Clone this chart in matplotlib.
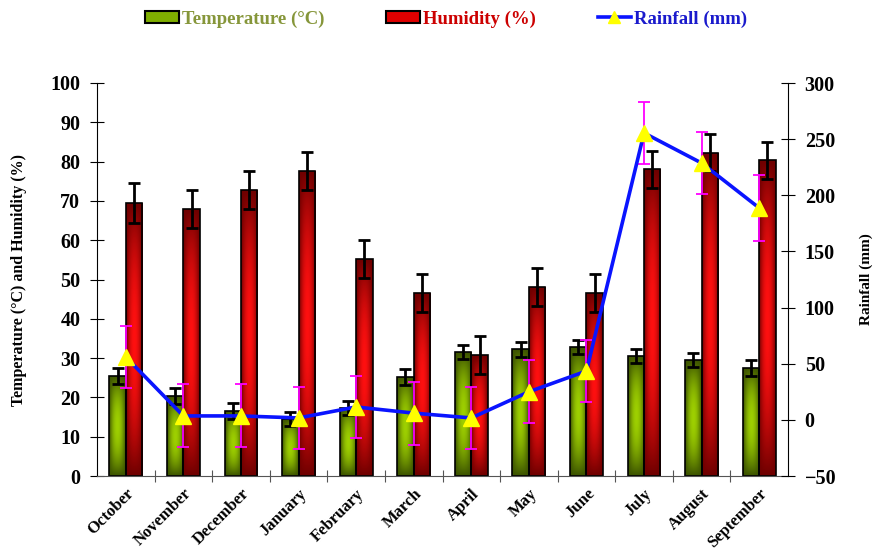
import numpy as np
import matplotlib
matplotlib.use("Agg")
import matplotlib.pyplot as plt
from matplotlib.patches import Patch
from matplotlib.lines import Line2D
from matplotlib.colors import to_rgb

months = ['October', 'November', 'December', 'January', 'February', 'March',
          'April', 'May', 'June', 'July', 'August', 'September']
temperature = [25.5, 20.3, 16.6, 14.5, 17.3, 25.2, 31.5, 32.2, 32.8, 30.6, 29.5, 27.5]
temperature_err = [2.0, 2.0, 2.0, 1.8, 1.8, 2.0, 1.8, 1.8, 1.8, 1.8, 1.8, 2.0]
humidity = [69.5, 68.0, 72.7, 77.7, 55.3, 46.5, 30.7, 48.0, 46.5, 78.0, 82.3, 80.3]
humidity_err = [5.0, 4.8, 4.8, 4.8, 4.8, 4.8, 4.8, 4.8, 4.8, 4.8, 4.8, 4.8]
rainfall = [56, 3.5, 3.5, 1.7, 11.5, 6, 1.7, 25, 43.5, 255.5, 228.7, 188.7]
rainfall_err = [28, 28, 28, 28, 28, 28, 28, 28, 28, 27.6, 28, 29]

plt.rcParams['font.family'] = 'Liberation Serif'
plt.rcParams['font.weight'] = 'bold'

fig = plt.figure(figsize=(8.75, 5.52), dpi=100)
ax = fig.add_axes([97 / 875, 1 - 476 / 552, (788 - 97) / 875, (476 - 83) / 552])

x = np.arange(len(months))
w = 1 / 3.5


def gradient_bars(bars, bright, dark):
    # fill each bar with a centre-bright, edge-dark shading
    b = np.array(to_rgb(bright))
    d = np.array(to_rgb(dark))
    u = np.linspace(-1, 1, 40)
    v = np.linspace(-1, 1, 200)
    uu, vv = np.meshgrid(u, v)
    t = (1 - np.abs(uu) ** 2) * (1 - np.abs(vv) ** 2)
    img = d + (b - d) * t[..., None]
    for rect in bars:
        x0, y0 = rect.get_x(), rect.get_y()
        im = ax.imshow(img, extent=[x0, x0 + rect.get_width(), y0, y0 + rect.get_height()],
                       aspect='auto', origin='lower', zorder=1.5, interpolation='bilinear')
        im.set_clip_path(rect)
        rect.set_facecolor('none')


tb = ax.bar(x - w / 2, temperature, w, edgecolor='black', linewidth=1.2, zorder=2)
hb = ax.bar(x + w / 2, humidity, w, edgecolor='black', linewidth=1.2, zorder=2)
gradient_bars(tb, '#9ed000', '#3b5200')
gradient_bars(hb, '#ff1010', '#6e0000')

ax.errorbar(x - w / 2, temperature, yerr=temperature_err, fmt='none', ecolor='black',
            elinewidth=2, capsize=4, capthick=2, zorder=3)
ax.errorbar(x + w / 2, humidity, yerr=humidity_err, fmt='none', ecolor='black',
            elinewidth=2, capsize=4, capthick=2, zorder=3)

ax.set_xlim(-0.5, len(months) - 0.5)
ax.set_ylim(0, 100)
ax.set_yticks(np.arange(0, 101, 10))
ax.set_xticks(np.arange(0.5, len(months) - 0.5, 1))
ax.set_xticklabels([])
ax.set_xticks(x, minor=True)
ax.set_xticklabels(months, minor=True, rotation=45, ha='right', va='top',
                   rotation_mode='anchor', fontsize=12, fontweight='bold')
ax.tick_params(axis='x', which='minor', length=0, pad=7)
ax.tick_params(axis='x', which='major', direction='inout', length=8, color='#555555')
ax.tick_params(axis='y', direction='inout', length=10, labelsize=14.5, pad=7)
for lab in ax.get_yticklabels():
    lab.set_fontweight('bold')
ax.spines['top'].set_visible(False)
ax.spines['right'].set_visible(False)
ax.spines['bottom'].set_color('#555555')
ax.set_ylabel('Temperature (°C) and Humidity (%)', fontsize=11.5, fontweight='bold')
ax.yaxis.set_label_coords(-0.102, 0.5)

ax2 = ax.twinx()
ax2.set_ylim(-50, 300)
ax2.set_yticks(np.arange(-50, 301, 50))
ax2.errorbar(x, rainfall, yerr=rainfall_err, fmt='none', ecolor='#ff00ff',
             elinewidth=1.3, capsize=4, capthick=1.3, zorder=3)
ax2.plot(x, rainfall, color='#0a14ff', linewidth=2.6, zorder=4)
ax2.plot(x, rainfall, linestyle='none', marker='^', markersize=11,
         markerfacecolor='#ffff00', markeredgecolor='#ffff00', zorder=5)
ax2.tick_params(axis='y', direction='inout', length=10, labelsize=14.5, pad=7)
for lab in ax2.get_yticklabels():
    lab.set_fontweight('bold')
for s in ['top', 'left', 'bottom']:
    ax2.spines[s].set_visible(False)
ax2.set_ylabel('Rainfall (mm)', fontsize=11, fontweight='bold')
ax2.yaxis.set_label_coords(1.104, 0.5)

handles = [Patch(facecolor='#7fae00', edgecolor='black', linewidth=1.5),
           Patch(facecolor='#e00000', edgecolor='black', linewidth=1.5),
           Line2D([], [], color='#0a14ff', linewidth=2.6, marker='^', markersize=8,
                  markerfacecolor='#ffff00', markeredgecolor='#ffff00')]
leg = fig.legend(handles, ['Temperature (°C)', 'Humidity (%)', 'Rainfall (mm)'],
                 loc='center', bbox_to_anchor=(0.51, 1 - 19 / 552), ncol=3, frameon=False,
                 prop={'family': 'Liberation Serif', 'weight': 'bold', 'size': 13.5},
                 handlelength=1.8, handleheight=0.6, handletextpad=0.15, columnspacing=3.3)
for txt, col in zip(leg.get_texts(), ['#86963a', '#cc0000', '#1a1acc']):
    txt.set_color(col)

fig.savefig('out.png', dpi=100)
